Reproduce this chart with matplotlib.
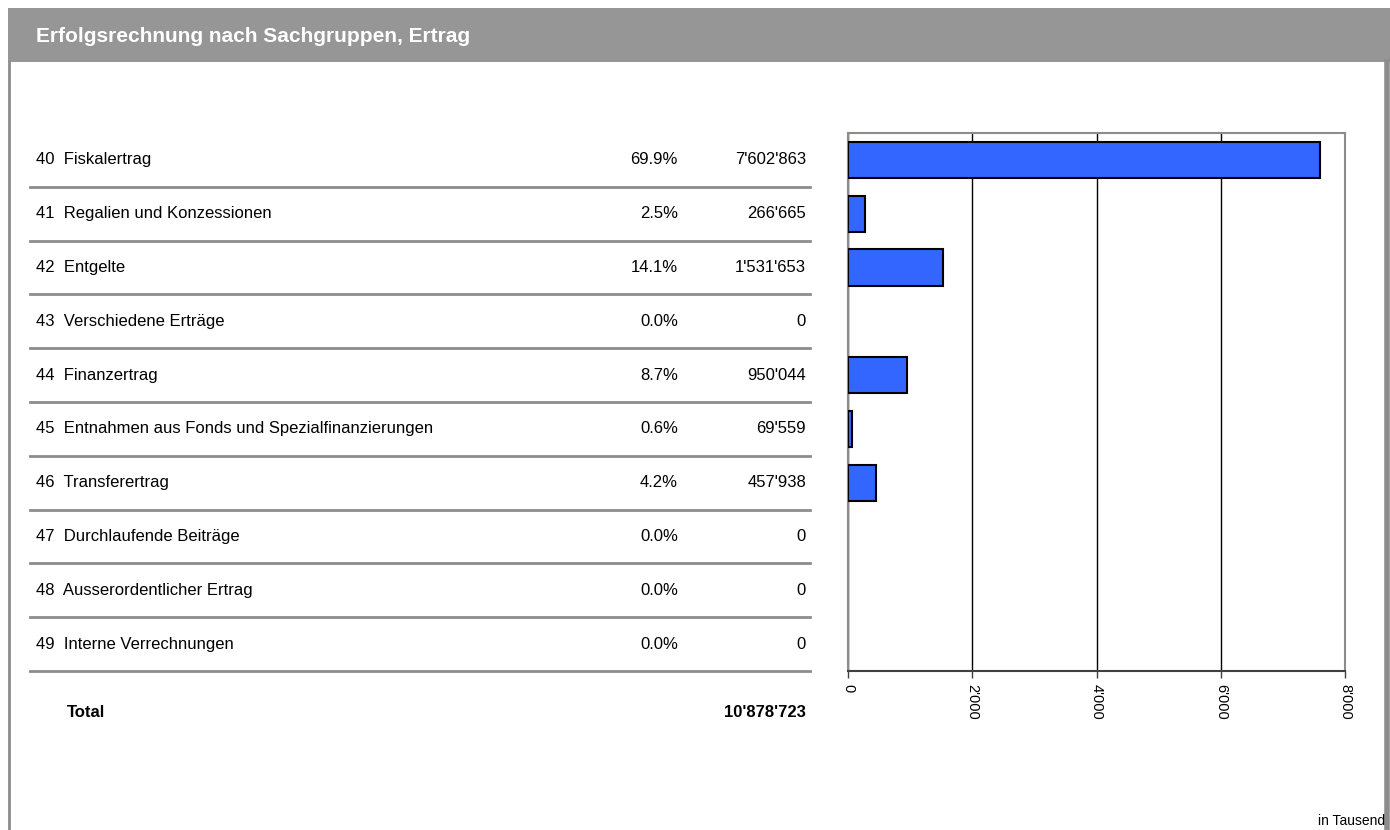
import matplotlib
matplotlib.use("Agg")
import matplotlib.pyplot as plt
from matplotlib.patches import Rectangle
from matplotlib.lines import Line2D

plt.rcParams['font.family'] = ['Liberation Sans', 'DejaVu Sans']

title = "Erfolgsrechnung nach Sachgruppen, Ertrag"
categories = [
    "40  Fiskalertrag",
    "41  Regalien und Konzessionen",
    "42  Entgelte",
    "43  Verschiedene Erträge",
    "44  Finanzertrag",
    "45  Entnahmen aus Fonds und Spezialfinanzierungen",
    "46  Transferertrag",
    "47  Durchlaufende Beiträge",
    "48  Ausserordentlicher Ertrag",
    "49  Interne Verrechnungen",
]
percent_labels = ["69.9%", "2.5%", "14.1%", "0.0%", "8.7%", "0.6%", "4.2%", "0.0%", "0.0%", "0.0%"]
values = [7602863, 266665, 1531653, 0, 950044, 69559, 457938, 0, 0, 0]
total_label = "Total"
total_value = 10878723
x_ticks = [0, 2000, 4000, 6000, 8000]
unit_note = "in Tausend"

W, H = 1390, 830
fig = plt.figure(figsize=(W / 100, H / 100), dpi=100)
fig.patch.set_facecolor("white")

def fx(px):
    return px / W

def fy(py):
    return 1 - py / H

# header band and frame
fig.patches.append(Rectangle((fx(8), fy(62)), fx(1390 - 8), (62 - 8) / H,
                             transform=fig.transFigure, facecolor="#969696",
                             edgecolor="none", zorder=0))
fig.lines.append(Line2D([fx(9), fx(9)], [fy(62), fy(830)], transform=fig.transFigure,
                        color="#8c8c8c", lw=2))
fig.lines.append(Line2D([fx(1387), fx(1387)], [fy(62), fy(830)], transform=fig.transFigure,
                        color="#8c8c8c", lw=4))
fig.text(fx(36), fy(37), title, color="white", fontsize=15, fontweight="bold",
         va="center", ha="left")

ax_top, ax_bot = 133, 671
# bar axes
ax = fig.add_axes([fx(848), fy(ax_bot), fx(1345 - 848), (ax_bot - ax_top) / H])
n = len(categories)
ypos = list(range(n))
vals_k = [v / 1000 for v in values]
ax.barh(ypos, vals_k, height=0.67, color="#3366FF", edgecolor="black",
        linewidth=[1.5 if v > 0 else 0 for v in vals_k], zorder=3)
ax.set_ylim(n - 0.5, -0.5)
ax.set_xlim(0, 8000)
ax.set_xticks(x_ticks)
ax.set_xticklabels([f"{t:,}".replace(",", "'") for t in x_ticks], rotation=270,
                   fontsize=10.5, va="top", ha="center")
ax.set_yticks([])
ax.grid(axis="x", color="black", lw=1, zorder=1)
for s in ["left", "top", "right"]:
    ax.spines[s].set_color("#8c8c8c")
    ax.spines[s].set_linewidth(1.5)
ax.spines["bottom"].set_color("#404040")
ax.spines["bottom"].set_linewidth(1.5)
ax.tick_params(axis="x", length=5, width=1, color="#404040", pad=4)

# table axes sharing row positions
tx = fig.add_axes([fx(30), fy(ax_bot), fx(810 - 30), (ax_bot - ax_top) / H])
tx.set_xlim(30, 810)
tx.set_ylim(n - 0.5, -0.5)
tx.axis("off")
fs = 12
for i, (c, p, v) in enumerate(zip(categories, percent_labels, values)):
    tx.text(36, i, c, fontsize=fs, va="center", ha="left")
    tx.text(678, i, p, fontsize=fs, va="center", ha="right")
    tx.text(806, i, f"{v:,}".replace(",", "'"), fontsize=fs, va="center", ha="right")
    tx.plot([30, 810], [i + 0.5, i + 0.5], color="#8c8c8c", lw=2, clip_on=False)
ty = n - 0.5 + 0.78
tx.text(67, ty, total_label, fontsize=fs, fontweight="bold", va="center", ha="left")
tx.text(806, ty, f"{total_value:,}".replace(",", "'"), fontsize=fs, fontweight="bold",
        va="center", ha="right")

fig.text(fx(1385), fy(821), unit_note, fontsize=10, ha="right", va="center")

fig.savefig("out.png", dpi=100)
